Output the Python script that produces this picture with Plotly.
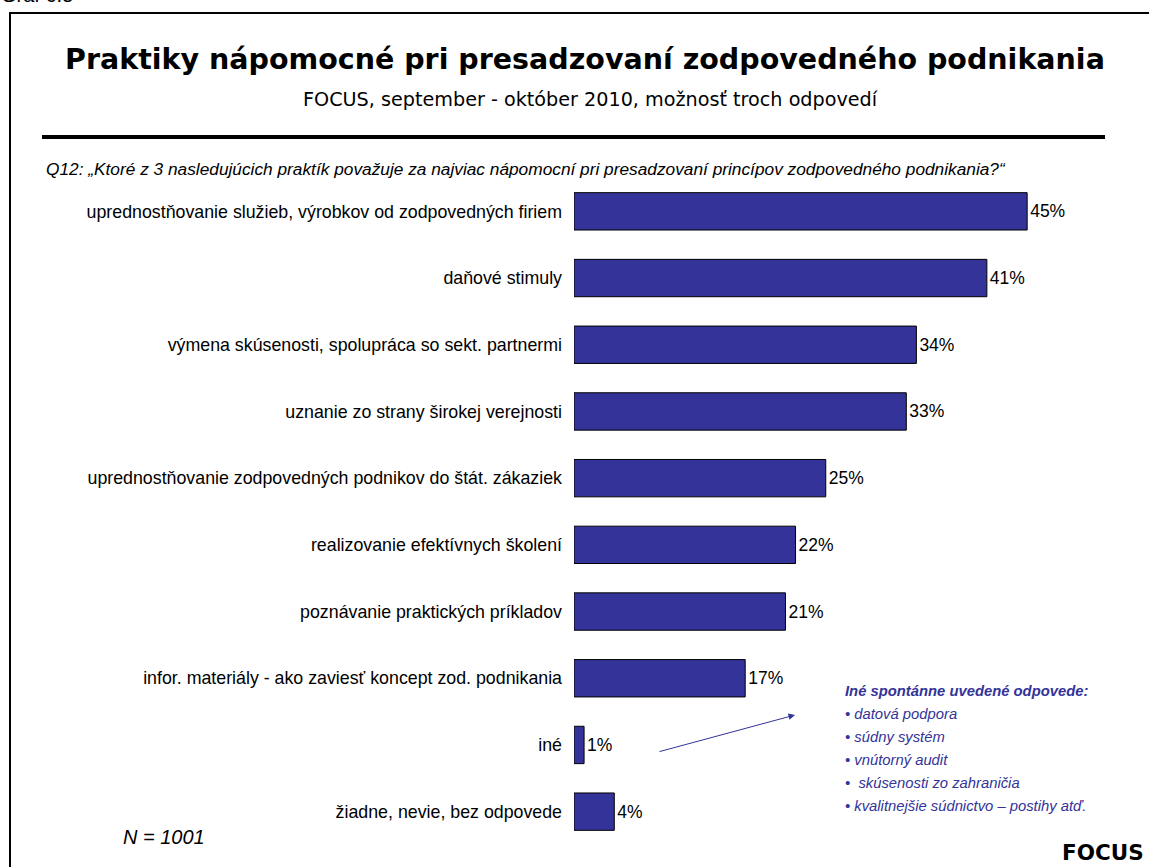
import plotly.graph_objects as go

categories = [
    "uprednost\u0148ovanie služieb, výrobkov od zodpovedných firiem",
    "da\u0148ové stimuly",
    "výmena skúsenosti, spolupráca so sekt. partnermi",
    "uznanie zo strany širokej verejnosti",
    "uprednost\u0148ovanie zodpovedných podnikov do štát. zákaziek",
    "realizovanie efektívnych školení",
    "poznávanie praktických príkladov",
    "infor. materiály - ako zavies\u0165 koncept zod. podnikania",
    "iné",
    "žiadne, nevie, bez odpovede",
]
values = [45, 41, 34, 33, 25, 22, 21, 17, 1, 4]

other_title = "Iné spontánne uvedené odpovede:"
other_items = [
    "• datová podpora",
    "• súdny systém",
    "• vnútorný audit",
    "•  skúsenosti zo zahrani\u010dia",
    "• kvalitnejšie súdnictvo – postihy at\u010f.",
]

W, H = 1149, 867
ML, MT = 574, 178
PW, PH = 554, 667
MR = W - ML - PW
MB = H - MT - PH
XMAX = PW / 10.07

def px(x):
    return (x - ML) / PW

def py(y):
    return (MT + PH - y) / PH

BLUE = "#333399"
ARIAL = "Liberation Sans, Arial"
VERDANA = "DejaVu Sans, Verdana"

fig = go.Figure(go.Bar(
    x=values,
    y=categories,
    orientation="h",
    width=0.56,
    marker=dict(color=BLUE, line=dict(color="black", width=1)),
    text=[f"{v}%" for v in values],
    textposition="outside",
    textfont=dict(family=ARIAL, size=17.5, color="black"),
    cliponaxis=False,
    hoverinfo="skip",
))

fig.update_layout(
    width=W, height=H,
    margin=dict(l=ML, r=MR, t=MT, b=MB, autoexpand=False),
    paper_bgcolor="white",
    plot_bgcolor="white",
    showlegend=False,
    xaxis=dict(range=[0, XMAX], visible=False, fixedrange=True),
    yaxis=dict(
        autorange=False,
        range=[len(categories) - 0.5, -0.5],
        showgrid=False, zeroline=False, showline=False,
        ticks="", ticklabelstandoff=11,
        tickfont=dict(family=ARIAL, size=17.8, color="black"),
    ),
    font=dict(family=ARIAL),
)

annots = []
annots.append(dict(text="Graf 6.5", x=px(-1), y=py(8), xanchor="left", yanchor="bottom",
                   font=dict(family=ARIAL, size=20, color="black")))
annots.append(dict(text="<b>Praktiky nápomocné pri presadzovaní zodpovedného podnikania</b>",
                   x=px(585), y=py(60), xanchor="center", yanchor="middle",
                   font=dict(family=VERDANA, size=28.5, color="black")))
annots.append(dict(text="FOCUS, september - október 2010, možnos\u0165 troch odpovedí",
                   x=px(590), y=py(100), xanchor="center", yanchor="middle",
                   font=dict(family=VERDANA, size=19.2, color="black")))
annots.append(dict(text="<i>Q12: \u201eKtoré z 3 nasledujúcich praktík považuje za najviac nápomocní pri presadzovaní princípov zodpovedného podnikania?\u201c</i>",
                   x=px(44), y=py(169), xanchor="left", yanchor="middle",
                   font=dict(family=ARIAL, size=17.3, color="black")))
annots.append(dict(text="<i>N = 1001</i>", x=px(121), y=py(837), xanchor="left", yanchor="middle",
                   font=dict(family=ARIAL, size=20, color="black")))
annots.append(dict(text="<b>FOCUS</b>", x=px(1146), y=py(852), xanchor="right", yanchor="middle",
                   font=dict(family=VERDANA, size=21.5, color="black")))
annots.append(dict(text=f"<b><i>{other_title}</i></b>", x=px(843), y=py(691), xanchor="left", yanchor="middle",
                   font=dict(family=ARIAL, size=14.8, color=BLUE)))
for i, item in enumerate(other_items):
    annots.append(dict(text=f"<i>{item}</i>", x=px(843), y=py(714 + 23 * i), xanchor="left", yanchor="middle",
                       font=dict(family=ARIAL, size=14.8, color=BLUE)))
# arrow
annots.append(dict(text="", x=px(795), y=py(715), ax=658 - 795, ay=752 - 715,
                   axref="pixel", ayref="pixel",
                   showarrow=True, arrowhead=2, arrowsize=1.3, arrowwidth=1, arrowcolor=BLUE))
for a in annots:
    a.setdefault("xref", "paper")
    a.setdefault("yref", "paper")
    a.setdefault("showarrow", False)
fig.update_layout(annotations=annots)

shapes = [
    # frame
    dict(type="line", xref="paper", yref="paper", x0=px(10), x1=px(10), y0=py(12), y1=py(880),
         line=dict(color="black", width=2)),
    dict(type="line", xref="paper", yref="paper", x0=px(9), x1=px(1160), y0=py(13), y1=py(13),
         line=dict(color="black", width=2)),
    # rule under subtitle
    dict(type="line", xref="paper", yref="paper", x0=px(42), x1=px(1105), y0=py(137), y1=py(137),
         line=dict(color="black", width=4)),
]
fig.update_layout(shapes=shapes)

fig.write_html(
    "out.html",
    config={"displayModeBar": False, "staticPlot": True},
    post_script="document.body.style.margin='0';document.body.style.overflow='hidden';",
)
